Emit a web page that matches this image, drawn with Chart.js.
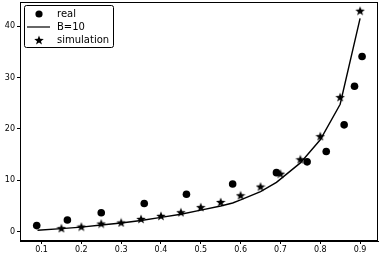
<!DOCTYPE html>
<html>
<head>
<meta charset="utf-8">
<script src="https://cdn.jsdelivr.net/npm/chart.js@4"></script>
<style>
  html, body { margin: 0; padding: 0; background: #fff; }
  #c { display: block; }
</style>
</head>
<body>
<canvas id="c" width="380" height="255"></canvas>
<script>
// measured data
const realX = [0.088, 0.165, 0.25, 0.358, 0.464, 0.58, 0.69, 0.767, 0.815, 0.86, 0.886, 0.905];
const realY = [1.2, 2.3, 3.7, 5.5, 7.3, 9.3, 11.5, 13.6, 15.6, 20.8, 28.3, 34.1];

const simX = [0.15, 0.2, 0.25, 0.3, 0.35, 0.4, 0.45, 0.5, 0.55, 0.6, 0.65, 0.7, 0.75, 0.8, 0.85, 0.9];
const simY = [0.7, 1.0, 1.6, 1.8, 2.5, 3.1, 3.8, 4.8, 5.8, 7.1, 8.8, 11.3, 14.1, 18.6, 26.2, 43.0];

const lineX = [0.09, 0.15, 0.2, 0.25, 0.3, 0.35, 0.4, 0.45, 0.5, 0.55, 0.58, 0.6, 0.65, 0.69, 0.75, 0.8, 0.85, 0.9];
const lineY = [0.3, 0.6, 0.9, 1.3, 1.7, 2.2, 2.8, 3.4, 4.2, 5.0, 5.6, 6.2, 7.8, 9.6, 13.4, 17.9, 24.8, 41.5];

const xTicks = [0.1, 0.2, 0.3, 0.4, 0.5, 0.6, 0.7, 0.8, 0.9];
const yTicks = [0, 10, 20, 30, 40];

const legendLabels = ['real', 'B=10', 'simulation'];

const FONT = 'DejaVu Sans';

function starImage(size) {
  const cv = document.createElement('canvas');
  cv.width = size; cv.height = size;
  const g = cv.getContext('2d');
  const cx = size / 2, cy = size / 2 + 0.5, R = size / 2, r = R * 0.42;
  g.beginPath();
  for (let i = 0; i < 10; i++) {
    const a = -Math.PI / 2 + i * Math.PI / 5;
    const rad = i % 2 ? r : R;
    g.lineTo(cx + rad * Math.cos(a), cy + rad * Math.sin(a));
  }
  g.closePath();
  g.fillStyle = '#000';
  g.fill();
  return cv;
}
const star = starImage(10);

const pts = (xs, ys) => xs.map((x, i) => ({ x, y: ys[i] }));

const framePlugin = {
  id: 'frame',
  afterDraw(chart) {
    const { ctx, chartArea: a } = chart;
    ctx.save();
    ctx.strokeStyle = '#000';
    ctx.lineWidth = 1;
    ctx.strokeRect(a.left + 0.5, a.top + 0.5, a.right - a.left - 1, a.bottom - a.top - 1);

    // legend box, upper left
    const lx = a.left + 4, ly = a.top + 3, lw = 89, lh = 42;
    ctx.fillStyle = 'rgba(255,255,255,0.8)';
    ctx.strokeStyle = '#000';
    ctx.lineWidth = 1;
    ctx.beginPath();
    ctx.roundRect(lx + 0.5, ly + 0.5, lw, lh, 2);
    ctx.fill();
    ctx.stroke();

    ctx.fillStyle = '#000';
    ctx.font = '10px "' + FONT + '"';
    ctx.textBaseline = 'middle';
    const rows = [ly + 9, ly + 22, ly + 35];
    const mx = lx + 15;
    ctx.beginPath();
    ctx.arc(mx, rows[0], 3.6, 0, Math.PI * 2);
    ctx.fill();
    ctx.beginPath();
    ctx.lineWidth = 1.2;
    ctx.moveTo(lx + 3, rows[1]);
    ctx.lineTo(lx + 26, rows[1]);
    ctx.stroke();
    ctx.drawImage(star, mx - 5, rows[2] - 5);
    legendLabels.forEach((t, i) => ctx.fillText(t, lx + 33, rows[i] + 0.5));
    ctx.restore();
  }
};

new Chart(document.getElementById('c'), {
  type: 'scatter',
  data: {
    datasets: [
      { label: 'real', data: pts(realX, realY), pointStyle: 'circle', pointRadius: 3.8,
        backgroundColor: '#000', borderColor: '#000', borderWidth: 0 },
      { label: 'B=10', type: 'line', data: pts(lineX, lineY), borderColor: '#000',
        borderWidth: 1.4, pointRadius: 0, tension: 0, fill: false },
      { label: 'simulation', data: pts(simX, simY), pointStyle: star, pointRadius: 5 },
    ],
  },
  options: {
    responsive: false,
    animation: false,
    layout: { autoPadding: false, padding: { top: 2, right: 2, left: 0, bottom: 0 } },
    plugins: { legend: { display: false }, tooltip: { enabled: false } },
    scales: {
      x: {
        type: 'linear', min: 0.046, max: 0.945,
        afterBuildTicks: (s) => { s.ticks = xTicks.map((v) => ({ value: v })); },
        afterFit: (s) => { s.height = 14; s.paddingLeft = 0; s.paddingRight = 0; },
        grid: { drawOnChartArea: false, drawTicks: true, tickLength: 3, color: '#000' },
        border: { display: true, color: '#000' },
        ticks: { color: '#000', font: { family: FONT, size: 8 }, padding: 1, maxRotation: 0,
          callback: (v) => v.toFixed(1) },
      },
      y: {
        type: 'linear', min: -1.8, max: 44.7,
        afterBuildTicks: (s) => { s.ticks = yTicks.map((v) => ({ value: v })); },
        afterFit: (s) => { s.width = 20; s.paddingTop = 0; s.paddingBottom = 0; },
        grid: { drawOnChartArea: false, drawTicks: true, tickLength: 3, color: '#000' },
        border: { display: true, color: '#000' },
        ticks: { color: '#000', font: { family: FONT, size: 8 }, padding: 2 },
      },
    },
  },
  plugins: [framePlugin],
});
</script>
</body>
</html>
